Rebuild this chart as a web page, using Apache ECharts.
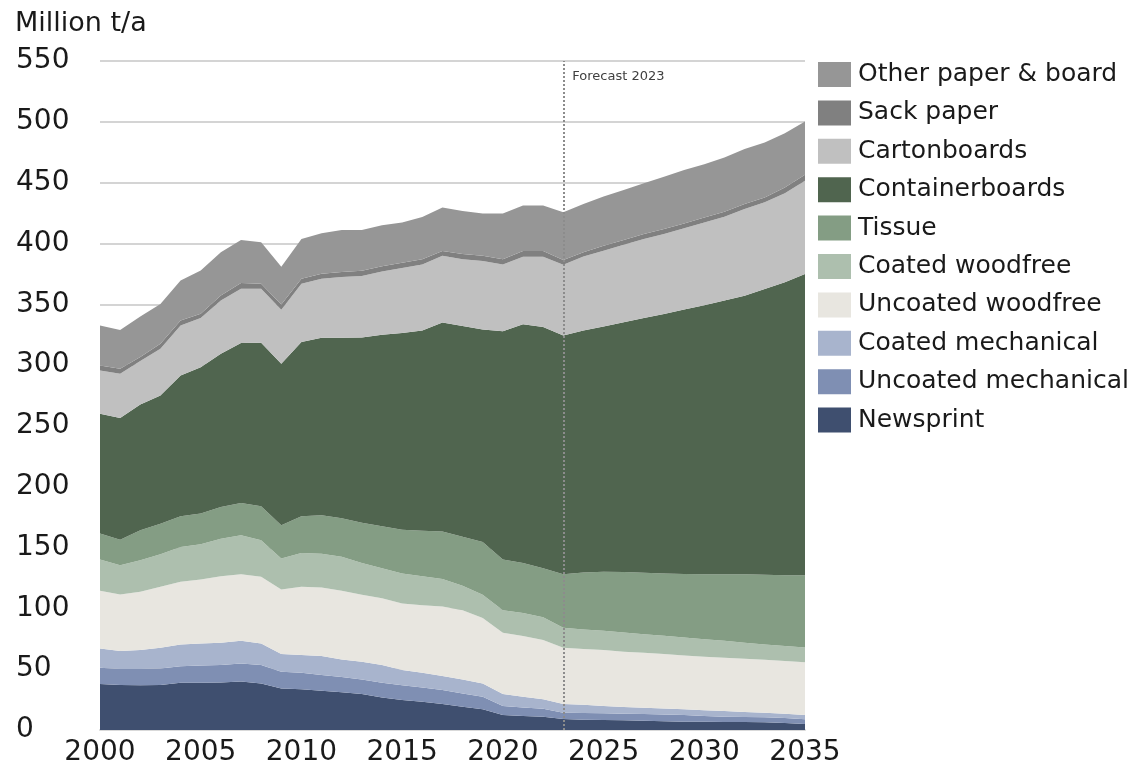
<!DOCTYPE html>
<html lang="en">
<head>
  <meta charset="UTF-8">
  <title>Paper and board demand</title>
  <script src="https://cdn.jsdelivr.net/npm/echarts@6.0.0/dist/echarts.min.js"></script>
  <style>
    html, body { margin: 0; padding: 0; background: #fff; }
  </style>
</head>
<body>
  <div id="main" style="width: 1141px;height:771px;"></div>
<script>
  // years on the x axis
  const years = ['2000', '2001', '2002', '2003', '2004', '2005', '2006', '2007', '2008', '2009',
    '2010', '2011', '2012', '2013', '2014', '2015', '2016', '2017', '2018', '2019',
    '2020', '2021', '2022', '2023', '2024', '2025', '2026', '2027', '2028', '2029',
    '2030', '2031', '2032', '2033', '2034', '2035'];
  const yTicks = [0, 550, 50];  // min, max, step
  const forecastYear = '2023';

  // million t/a, bottom of the stack first
  const newsprint = [37.8, 36.9, 36.7, 36.9, 38.9, 38.9, 39.1, 39.9, 38.3, 34.2, 33.4, 32.3, 31.0, 29.6, 26.8, 24.6, 23.3, 21.3,
    19.2, 17.0, 12.3, 11.5, 10.9, 9.0, 8.5, 8.2, 8.0, 7.7, 7.2, 6.8, 6.7, 6.6, 6.5, 6.3, 5.8, 4.9];
  const uncoatedMech = [13.4, 13.2, 13.4, 13.7, 13.6, 14.2, 14.3, 14.8, 15.1, 13.7, 13.7, 12.9, 12.5, 12.0, 12.1, 12.1, 11.7, 11.5,
    10.9, 10.4, 7.4, 7.1, 6.6, 5.2, 5.5, 5.5, 5.4, 5.4, 5.5, 5.5, 4.9, 4.3, 4.1, 4.1, 4.0, 3.9];
  const coatedMech = [15.8, 14.8, 15.6, 17.0, 17.8, 18.0, 18.3, 18.6, 17.7, 14.5, 14.5, 15.6, 14.5, 14.5, 14.5, 12.6, 12.1, 11.5,
    11.5, 10.9, 9.9, 8.8, 7.7, 7.1, 6.8, 6.0, 5.6, 5.2, 5.0, 4.7, 4.7, 4.7, 4.3, 3.8, 3.5, 3.5];
  const uncoatedWf = [47.4, 46.5, 47.9, 50.1, 51.5, 52.6, 54.8, 54.8, 54.8, 53.1, 56.1, 56.4, 56.4, 55.1, 55.0, 54.7, 55.5, 57.2,
    56.9, 53.7, 50.4, 49.9, 48.8, 46.3, 45.7, 46.0, 45.3, 45.2, 44.7, 44.3, 43.9, 43.8, 43.7, 43.6, 43.4, 43.3];
  const coatedWf = [25.7, 24.0, 25.9, 26.8, 28.7, 29.0, 30.8, 32.0, 30.1, 25.4, 27.8, 27.8, 28.1, 26.1, 24.5, 24.6, 23.7, 22.7,
    20.0, 19.2, 18.4, 18.9, 18.7, 16.4, 16.1, 15.9, 15.9, 15.3, 15.0, 14.8, 14.5, 13.9, 13.1, 12.5, 12.3, 12.3];
  const tissue = [21.4, 21.1, 24.7, 25.1, 25.2, 25.2, 26.0, 26.5, 27.9, 27.4, 30.2, 31.5, 31.5, 33.1, 34.7, 36.1, 37.5, 39.0,
    40.4, 43.4, 41.7, 41.1, 40.2, 44.0, 46.9, 48.4, 49.6, 50.4, 51.2, 52.2, 53.3, 54.7, 56.3, 57.3, 58.2, 59.3];
  const containerboards = [98.5, 99.9, 103.4, 105.4, 115.8, 120.4, 126.0, 131.5, 134.4, 132.8, 143.2, 146.0, 148.5, 152.2, 157.4,
    161.7, 164.6, 171.9, 173.3, 174.7, 187.7, 196.3, 198.4, 196.3, 198.9, 201.7, 205.4, 209.6, 213.5, 217.3, 221.2, 225.0,
    229.1, 235.0, 240.9, 247.7];
  const cartonboards = [35.6, 36.5, 35.7, 38.4, 41.0, 40.5, 43.8, 44.6, 44.4, 44.3, 47.9, 48.4, 50.0, 50.6, 51.9, 53.4, 54.3, 54.8,
    54.8, 56.3, 54.9, 55.5, 57.8, 58.1, 60.8, 62.4, 63.8, 64.9, 65.7, 66.8, 68.1, 69.0, 71.2, 71.2, 73.2, 76.7];
  const sackPaper = [4.1, 4.1, 3.3, 4.1, 4.2, 3.4, 4.1, 4.7, 4.1, 4.4, 4.1, 4.1, 4.0, 4.3, 4.4, 4.4, 4.3, 3.8,
    4.4, 4.3, 4.3, 4.6, 4.6, 4.0, 3.5, 4.1, 3.8, 4.1, 4.1, 4.1, 4.1, 4.1, 4.1, 4.0, 4.8, 4.9];
  const otherPaper = [32.8, 31.9, 33.3, 32.8, 32.8, 35.5, 35.5, 35.5, 34.2, 31.1, 32.8, 33.3, 34.5, 33.5, 33.7, 33.1, 34.7, 35.8,
    35.2, 34.7, 37.6, 37.5, 37.5, 39.2, 39.7, 40.5, 41.1, 41.6, 42.9, 43.8, 43.8, 44.6, 45.2, 45.2, 44.6, 43.8];

  const seriesNames = ['Newsprint', 'Uncoated mechanical', 'Coated mechanical', 'Uncoated woodfree', 'Coated woodfree',
    'Tissue', 'Containerboards', 'Cartonboards', 'Sack paper', 'Other paper & board'];
  const seriesData = [newsprint, uncoatedMech, coatedMech, uncoatedWf, coatedWf, tissue, containerboards, cartonboards,
    sackPaper, otherPaper];
  const colors = ['#3f4f6f', '#7f8fb3', '#a8b4cd', '#e8e6e0', '#adbfae', '#849d84', '#50654f', '#c0c0c0', '#808080', '#969696'];

  const font = 'DejaVu Sans, Verdana, sans-serif';

  let series = seriesNames.map((name, i) => {
    let s = {
      name: name,
      type: 'line',
      stack: 'total',
      data: seriesData[i],
      showSymbol: false,
      symbol: 'none',
      lineStyle: { width: 0 },
      areaStyle: { color: colors[i], opacity: 1 },
      itemStyle: { color: colors[i] },
      z: 2
    };
    return s;
  });

  // dotted forecast marker
  series[0].markLine = {
    silent: true,
    symbol: 'none',
    lineStyle: { color: '#8c8c8c', type: 'dotted', width: 2 },
    label: { show: false },
    data: [{ xAxis: forecastYear }],
    z: 5
  };

  let myChart = echarts.init(document.getElementById('main'));
  let option = {
    animation: false,
    backgroundColor: '#fff',
    grid: { left: 100, right: 336, top: 61, bottom: 41 },
    legend: {
      orient: 'vertical',
      left: 813,
      top: 57,
      icon: 'rect',
      itemWidth: 33,
      itemHeight: 25,
      itemGap: 13.4,
      data: seriesNames.slice().reverse(),
      textStyle: { fontFamily: font, fontSize: 25, color: '#1a1a1a', padding: [0, 0, 0, 2] }
    },
    xAxis: {
      type: 'category',
      boundaryGap: false,
      data: years,
      axisLine: { lineStyle: { color: '#d9d9d9', width: 2 } },
      axisTick: { show: false },
      axisLabel: {
        interval: 4,
        margin: 9,
        fontFamily: font,
        fontSize: 28,
        color: '#1a1a1a'
      },
      splitLine: { show: false }
    },
    yAxis: {
      type: 'value',
      min: yTicks[0],
      max: yTicks[1],
      interval: yTicks[2],
      name: 'Million t/a',
      nameLocation: 'end',
      nameGap: 24,
      nameTextStyle: { fontFamily: font, fontSize: 27, color: '#1a1a1a', align: 'left', padding: [0, 0, 0, -85] },
      axisLine: { show: false },
      axisTick: { show: false },
      axisLabel: {
        align: 'left',
        margin: 84,
        fontFamily: font,
        fontSize: 28,
        color: '#1a1a1a'
      },
      splitLine: { lineStyle: { color: '#d4d4d4', width: 2 } }
    },
    series: series
  };
  myChart.setOption(option);

  // "Forecast 2023" note next to the dotted line
  let p = myChart.convertToPixel({ gridIndex: 0 }, [forecastYear, yTicks[1]]);
  myChart.setOption({
    graphic: [{
      type: 'text',
      left: p[0] + 9,
      top: p[1] + 9,
      z: 10,
      style: { text: 'Forecast 2023', font: '13px ' + font, fill: '#404040' }
    }]
  });
</script>
</body>
</html>
